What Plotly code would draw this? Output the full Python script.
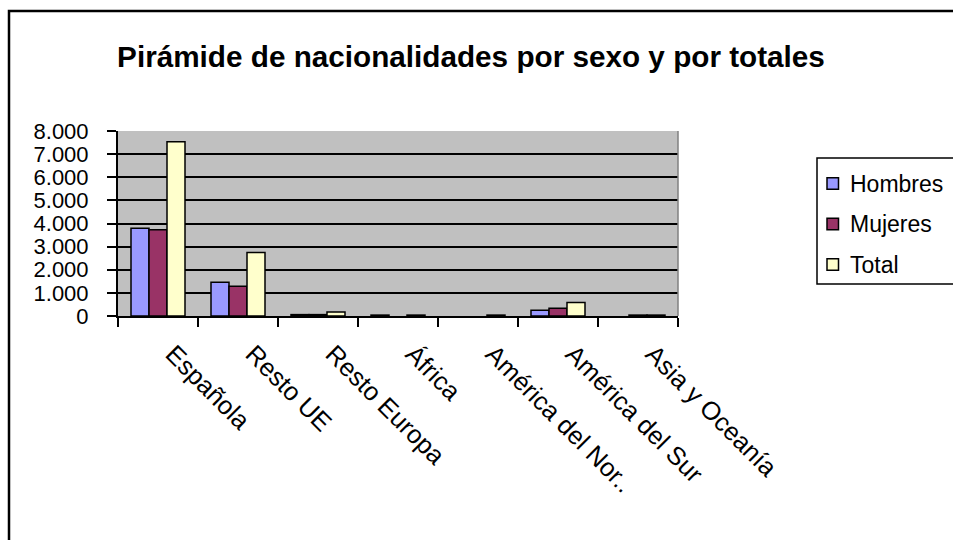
import plotly.graph_objects as go

categorias = ["Española", "Resto UE", "Resto Europa", "África",
              "América del Nor..", "América del Sur", "Asia y Oceanía"]
hombres = [3800, 1460, 60, 40, None, 250, None]
mujeres = [3730, 1290, 60, None, None, 330, 40]
total = [7530, 2750, 170, 40, 40, 580, 40]

series = [("Hombres", hombres, "#9999FF"),
          ("Mujeres", mujeres, "#993366"),
          ("Total", total, "#FFFFCC")]

FONT = "Arial, Liberation Sans, sans-serif"
W, H = 953, 540
L, R, T, B = 118, 678, 131, 316  # área de trazado en píxeles


def px_x(x):
    return (x - L) / (R - L)


def px_y(y):
    return (B - y) / (B - T)


fig = go.Figure()
for name, vals, color in series:
    fig.add_trace(go.Bar(x=categorias, y=vals, name=name, showlegend=False,
                         marker=dict(color=color, line=dict(color="black", width=1.5))))

fig.update_layout(
    width=W, height=H,
    margin=dict(l=L, r=W - R, t=T, b=H - B),
    paper_bgcolor="white",
    plot_bgcolor="#C0C0C0",
    barmode="group", bargap=0.325, bargroupgap=0,
    separators=",.",
    font=dict(family=FONT, size=24, color="black"),
    title=dict(text="<b>Pirámide de nacionalidades por sexo y por totales</b>",
               x=471 / W, xanchor="center", y=1 - 57 / H, yanchor="middle",
               font=dict(family=FONT, size=29.7, color="black")),
)

fig.update_yaxes(range=[0, 8000], dtick=1000, tickformat=",d",
                 showgrid=True, gridcolor="black", gridwidth=1.5,
                 showline=True, linecolor="black", linewidth=2,
                 ticks="outside", ticklen=9, tickwidth=1.5, tickcolor="black",
                 ticklabelstandoff=14, tickfont=dict(size=22),
                 zeroline=False, fixedrange=True)
fig.update_xaxes(tickangle=45, tickson="boundaries",
                 showline=True, linecolor="black", linewidth=2,
                 ticks="outside", ticklen=9, tickwidth=1.5, tickcolor="black",
                 ticklabelstandoff=11, ticklabelshift=15, tickfont=dict(size=25.5),
                 showgrid=False, fixedrange=True)

# borde gris a la derecha del área de trazado
fig.add_shape(type="line", xref="paper", yref="paper", x0=1, x1=1, y0=0, y1=1,
              line=dict(color="#808080", width=1.5))

# marco exterior del gráfico (sólo lados izquierdo y superior visibles)
fig.add_shape(type="rect", xref="paper", yref="paper",
              x0=px_x(9), x1=px_x(975), y0=px_y(560), y1=px_y(11),
              line=dict(color="black", width=2.5), layer="below")

# leyenda dibujada a mano
fig.add_shape(type="rect", xref="paper", yref="paper",
              x0=px_x(817), x1=px_x(975), y0=px_y(284), y1=px_y(158),
              line=dict(color="black", width=1.5), fillcolor="white")
for i, (name, vals, color) in enumerate(series):
    cy = 183.5 + i * 40.5
    fig.add_shape(type="rect", xref="paper", yref="paper",
                  x0=px_x(827), x1=px_x(838.5), y0=px_y(cy + 5.8), y1=px_y(cy - 5.8),
                  line=dict(color="black", width=1.5), fillcolor=color)
    fig.add_annotation(text=name, xref="paper", yref="paper",
                       x=px_x(848), y=px_y(cy), xanchor="left", yanchor="middle",
                       showarrow=False, font=dict(family=FONT, size=23, color="black"))

fig.write_html("out.html", config={"displayModeBar": False},
               post_script="document.body.style.margin='0';")
